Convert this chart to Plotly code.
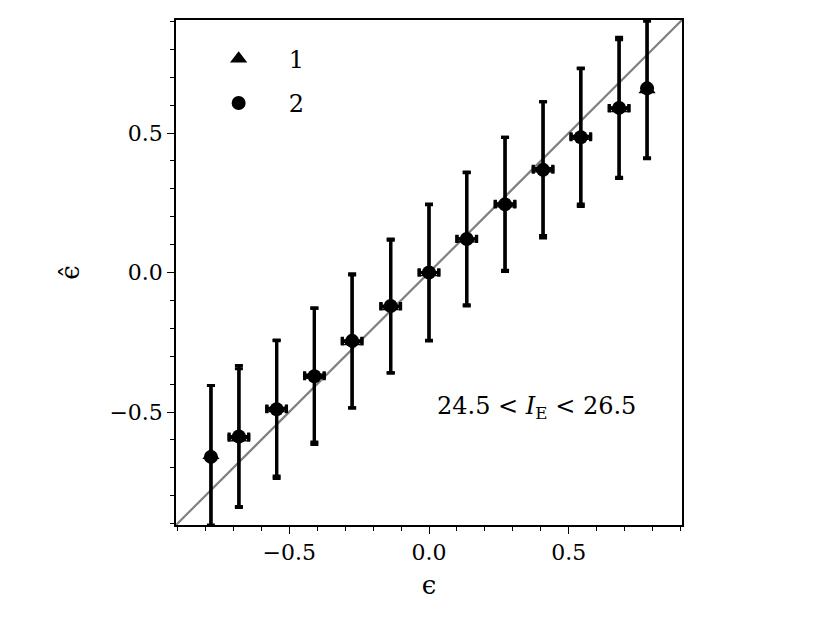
import plotly.graph_objects as go

# true ellipticity bins and recovered values for the two samples
eps = [-0.78, -0.68, -0.545, -0.41, -0.275, -0.137, 0.0, 0.135, 0.272, 0.408, 0.543, 0.68, 0.78]
eps_err = [0.005, 0.035, 0.035, 0.035, 0.035, 0.035, 0.035, 0.035, 0.035, 0.035, 0.035, 0.035, 0.005]

hat_1 = [-0.655, -0.592, -0.487, -0.368, -0.247, -0.122, 0.0, 0.121, 0.246, 0.372, 0.488, 0.588, 0.656]
err_1 = [0.25, 0.247, 0.243, 0.24, 0.238, 0.238, 0.243, 0.237, 0.238, 0.24, 0.243, 0.247, 0.245]

hat_2 = [-0.661, -0.588, -0.49, -0.372, -0.245, -0.12, 0.0, 0.12, 0.244, 0.368, 0.485, 0.59, 0.66]
err_2 = [0.256, 0.254, 0.248, 0.244, 0.24, 0.24, 0.245, 0.24, 0.24, 0.244, 0.248, 0.253, 0.252]

identity = [-1.0, 1.0]
axis_range = [-0.905, 0.905]

FONT = "DejaVu Serif"

fig = go.Figure()

# y = x reference line
fig.add_trace(go.Scatter(
    x=identity, y=identity, mode="lines",
    line=dict(color="#808080", width=2.2),
    showlegend=False, hoverinfo="skip",
))

for name, hat, err, symbol, size in [
    ("1", hat_1, err_1, "triangle-up", 15),
    ("2", hat_2, err_2, "circle", 14),
]:
    fig.add_trace(go.Scatter(
        x=eps, y=hat, mode="markers", name=name, legendgroup=name,
        marker=dict(symbol=symbol, size=size, color="black"),
        error_y=dict(type="data", array=err, color="black", thickness=3.2, width=4),
        error_x=dict(type="data", array=eps_err, color="black", thickness=3.2, width=4),
    ))

fig.add_annotation(
    x=0.385, y=-0.485, xref="x", yref="y", showarrow=False,
    text="24.5 &lt; <i>I</i><sub>E</sub> &lt; 26.5",
    font=dict(family=FONT, size=24, color="black"),
)

axis_common = dict(
    range=axis_range, dtick=0.5, tick0=0, tickformat=".1f",
    ticks="outside", ticklen=7, tickwidth=1, tickcolor="black",
    minor=dict(dtick=0.1, tick0=0, ticks="outside", ticklen=4, tickcolor="black"),
    showline=True, linecolor="black", linewidth=1.5, mirror=True,
    showgrid=False, zeroline=False,
    tickfont=dict(family=FONT, size=22, color="black"),
)

fig.update_layout(
    width=822, height=615,
    paper_bgcolor="white", plot_bgcolor="white",
    margin=dict(l=168, r=148, t=10, b=98),
    font=dict(family=FONT, color="black"),
    xaxis=dict(**axis_common, title=dict(text="ϵ", font=dict(family=FONT, size=26), standoff=12)),
    yaxis=dict(**axis_common, title=dict(text="ϵ̂", font=dict(family=FONT, size=26), standoff=22)),
    legend=dict(
        x=0.025, y=0.967, xanchor="left", yanchor="top",
        bgcolor="rgba(0,0,0,0)", font=dict(family=FONT, size=24, color="black"),
        tracegroupgap=10, itemwidth=90,
    ),
)

fig.write_html("out.html")
